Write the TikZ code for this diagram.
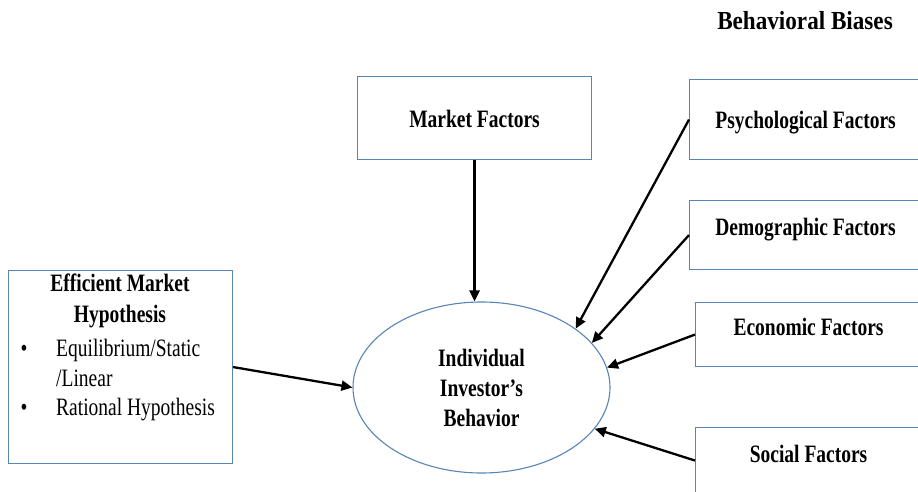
\documentclass[tikz,border=0pt]{standalone}
\usepackage{graphicx}
\usepackage{fontspec}
\setmainfont{Liberation Serif}
\usetikzlibrary{arrows.meta,shapes.geometric}
\definecolor{boxblue}{RGB}{88,132,182}
\newcommand{\sq}[1]{\scalebox{0.78}[1]{#1}}
\tikzset{
  factor/.style={draw=boxblue, line width=1.1pt, rectangle, inner xsep=0pt, inner ysep=0pt,
    font=\fontsize{25}{30}\selectfont\bfseries, anchor=north west},
  conn/.style={line width=2.3pt, -{Triangle[length=11pt,width=10pt]}},
  plain/.style={font=\fontsize{25}{30}\selectfont, inner sep=0pt}
}
\begin{document}
\begin{tikzpicture}[x=1pt,y=-1pt]
\useasboundingbox (0,0) rectangle (918,492);
\clip (0,0) rectangle (918,492);
% title
\node[font=\fontsize{26}{30}\selectfont\bfseries, inner sep=0pt, anchor=base] (bb) at (805,30) {\scalebox{0.89}[1]{Behavioral Biases}};
% boxes
\node[factor, minimum width=234pt, text height=51pt, text depth=32pt] (mf) at (357,76) {\sq{Market Factors}};
\node[factor, minimum width=232pt, text height=49pt, text depth=31pt] (ps) at (689,79) {\sq{Psychological Factors}};
\node[factor, minimum width=232pt, text height=35pt, text depth=34pt] (dm) at (689,200) {\sq{Demographic Factors}};
\node[factor, minimum width=226pt, text height=33pt, text depth=31pt] (ec) at (695,302) {\sq{Economic Factors}};
\node[factor, minimum width=226pt, text height=35pt, text depth=31pt] (so) at (695,427) {\sq{Social Factors}};
% efficient market box
\node[factor, minimum width=224pt, minimum height=193pt] (em) at (8,270) {};
\node[plain, font=\fontsize{25}{31}\selectfont\bfseries, align=center, anchor=north] (emt) at (120,274) {\sq{Efficient Market}\\\sq{Hypothesis}};
\node[plain, anchor=base] (b1) at (24,356) {\sq{•}};
\node[plain, anchor=base west] (e1) at (56,356) {\sq{Equilibrium/Static}};
\node[plain, anchor=base west] (e2) at (56,386) {\sq{/Linear}};
\node[plain, anchor=base] (b2) at (24,415) {\sq{•}};
\node[plain, anchor=base west] (e3) at (56,415) {\sq{Rational Hypothesis}};
% ellipse
\node[ellipse, draw=boxblue, line width=1.1pt, minimum width=257pt, minimum height=171pt, inner sep=0pt,
  font=\fontsize{25}{30}\selectfont\bfseries, align=center] (ell) at (481.5,387.5)
  {\sq{Individual}\\\sq{Investor’s}\\\sq{Behavior}};
% connectors
\draw[conn] (mf.south) -- (mf.south |- ell.north);
\draw[conn] (ps.west) -- (ell.32.5);
\draw[conn] (dm.west) -- (ell.22);
\draw[conn] (ec.west) -- (ell.9);
\draw[conn] (so.west) -- (ell.-20.5);
\draw[conn] (em.east) -- (ell.west);
\end{tikzpicture}
\end{document}
